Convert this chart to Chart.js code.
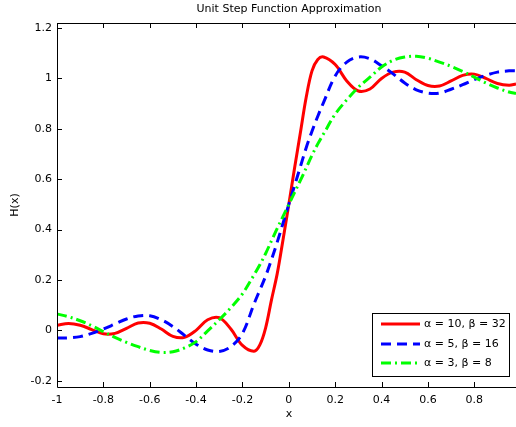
<!DOCTYPE html>
<html>
<head>
<meta charset="utf-8">
<script src="https://cdn.jsdelivr.net/npm/chart.js@4"></script>
<style>
  html, body { margin: 0; padding: 0; background: #fff; overflow: hidden; }
  #wrap { width: 516px; height: 427px; position: relative; }
</style>
</head>
<body>
<div id="wrap"><canvas id="stepChart"></canvas></div>
<script>
// x positions shared by all three curves
const xs = [-1, -0.95, -0.9, -0.85, -0.8, -0.75, -0.7, -0.65, -0.6, -0.55, -0.5, -0.45, -0.4, -0.35, -0.3, -0.25, -0.2,
  -0.15, -0.125, -0.1, -0.075, -0.05, -0.025, 0, 0.025, 0.05, 0.075, 0.1, 0.125, 0.15,
  0.2, 0.25, 0.3, 0.35, 0.4, 0.45, 0.5, 0.55, 0.6, 0.65, 0.7, 0.75, 0.8, 0.85, 0.9, 0.95, 0.98];

// alpha = 10, beta = 32 (red, solid)
const redVals = [0.020, 0.027, 0.020, 0.003, -0.014, -0.012, 0.008, 0.029, 0.028, 0.005, -0.024, -0.028, 0.000, 0.042, 0.050, 0.005, -0.060,
  -0.083, -0.058, 0.010, 0.120, 0.225, 0.360, 0.500, 0.645, 0.785, 0.925, 1.030, 1.075, 1.085,
  1.055, 0.990, 0.950, 0.958, 1.000, 1.025, 1.025, 0.995, 0.972, 0.970, 0.990, 1.012, 1.017, 1.000, 0.980, 0.973, 0.978];

// alpha = 5, beta = 16 (blue, dashed)
const blueVals = [-0.030, -0.030, -0.025, -0.012, 0.005, 0.025, 0.045, 0.057, 0.058, 0.042, 0.015, -0.020, -0.055, -0.078, -0.084, -0.065, -0.012,
  0.105, 0.160, 0.215, 0.280, 0.350, 0.425, 0.500, 0.575, 0.650, 0.725, 0.790, 0.850, 0.905,
  1.010, 1.065, 1.085, 1.078, 1.050, 1.018, 0.982, 0.955, 0.942, 0.942, 0.957, 0.975, 0.995, 1.012, 1.025, 1.030, 1.030];

// alpha = 3, beta = 8 (green, dash-dot)
const greenVals = [0.065, 0.054, 0.038, 0.018, -0.005, -0.028, -0.048, -0.065, -0.080, -0.088, -0.085, -0.070, -0.045, -0.002, 0.042, 0.090, 0.145,
  0.220, 0.260, 0.305, 0.355, 0.405, 0.452, 0.500, 0.548, 0.595, 0.645, 0.695, 0.740, 0.780,
  0.858, 0.915, 0.965, 1.005, 1.045, 1.072, 1.085, 1.088, 1.080, 1.065, 1.048, 1.028, 1.005, 0.982, 0.962, 0.946, 0.940];

const xTicks = [-1, -0.8, -0.6, -0.4, -0.2, 0, 0.2, 0.4, 0.6, 0.8];
const yTicks = [-0.2, 0, 0.2, 0.4, 0.6, 0.8, 1, 1.2];

const seriesLabels = ['\u03b1 = 10, \u03b2 = 32', '\u03b1 = 5, \u03b2 = 16', '\u03b1 = 3, \u03b2 = 8'];
const seriesColors = ['rgb(255,0,0)', 'rgb(0,0,255)', 'rgb(0,255,0)'];
const seriesDash = [[], [10, 6], [10, 4, 2, 4]];

const FAMILY = '"DejaVu Sans", sans-serif';
const FONT = '11px ' + FAMILY;

function toPoints(vals) {
    return xs.map((x, i) => ({ x: x, y: vals[i] }));
}

const fmt = v => String(Number(v.toFixed(1)));

// box, inward ticks, titles and legend
const decorPlugin = {
    id: 'decor',
    afterDraw(chart) {
        const c = chart.ctx;
        const a = chart.chartArea;
        const sx = chart.scales.x, sy = chart.scales.y;
        c.save();
        c.strokeStyle = '#000';
        c.lineWidth = 1;
        c.beginPath();
        c.moveTo(a.left + 0.5, a.top + 0.5);
        c.lineTo(a.left + 0.5, a.bottom + 0.5);
        c.lineTo(a.right + 2, a.bottom + 0.5);
        c.moveTo(a.left + 0.5, a.top + 0.5);
        c.lineTo(a.right + 2, a.top + 0.5);
        xTicks.forEach(t => {
            const px = Math.round(sx.getPixelForValue(t)) + 0.5;
            c.moveTo(px, a.bottom); c.lineTo(px, a.bottom - 5);
            c.moveTo(px, a.top); c.lineTo(px, a.top + 5);
        });
        yTicks.forEach(t => {
            const py = Math.round(sy.getPixelForValue(t)) + 0.5;
            c.moveTo(a.left, py); c.lineTo(a.left + 5, py);
        });
        c.stroke();

        // titles
        c.fillStyle = '#000';
        c.font = FONT;
        c.textAlign = 'center';
        c.textBaseline = 'middle';
        c.fillText('Unit Step Function Approximation', 289, 9);
        c.fillText('x', 289, 414);
        c.save();
        c.translate(15, 205);
        c.rotate(-Math.PI / 2);
        c.fillText('H(x)', 0, 0);
        c.restore();

        // legend
        c.fillStyle = '#fff';
        c.fillRect(372, 313, 138, 63);
        c.strokeStyle = '#000';
        c.strokeRect(372.5, 313.5, 137, 63);
        const rowsY = [324, 344, 363];
        rowsY.forEach((y, i) => {
            c.beginPath();
            c.strokeStyle = seriesColors[i];
            c.lineWidth = 3;
            c.setLineDash(seriesDash[i]);
            c.moveTo(381, y); c.lineTo(420, y);
            c.stroke();
            c.setLineDash([]);
            c.fillStyle = '#000';
            c.textAlign = 'left';
            c.fillText(seriesLabels[i], 424, y);
        });
        c.restore();
    }
};

const ctx = document.getElementById('stepChart').getContext('2d');

const chart = new Chart(ctx, {
    type: 'line',
    data: {
        datasets: [redVals, blueVals, greenVals].map((vals, i) => ({
            label: seriesLabels[i],
            data: toPoints(vals),
            borderColor: seriesColors[i],
            borderWidth: 3,
            borderDash: seriesDash[i],
            pointRadius: 0,
            tension: 0.35,
            fill: false,
            order: 2 - i
        }))
    },
    options: {
        responsive: true,
        maintainAspectRatio: false,
        animation: false,
        layout: { padding: { top: 23, right: 0, left: 0, bottom: 0 } },
        plugins: {
            legend: { display: false },
            tooltip: { enabled: false },
            title: { display: false }
        },
        scales: {
            x: {
                type: 'linear',
                min: -1,
                max: 0.98,
                afterBuildTicks: s => { s.ticks = xTicks.map(v => ({ value: v })); },
                afterFit: s => { s.height = 40; },
                grid: { display: false, drawTicks: false },
                border: { display: false },
                ticks: { color: '#000', font: { family: FAMILY, size: 11 }, padding: 7, maxRotation: 0, callback: fmt }
            },
            y: {
                min: -0.225,
                max: 1.22,
                afterBuildTicks: s => { s.ticks = yTicks.map(v => ({ value: v })); },
                afterFit: s => { s.width = 57; },
                grid: { display: false, drawTicks: false },
                border: { display: false },
                ticks: { color: '#000', font: { family: FAMILY, size: 11 }, padding: 5, callback: fmt }
            }
        }
    },
    plugins: [decorPlugin]
});
</script>
</body>
</html>
